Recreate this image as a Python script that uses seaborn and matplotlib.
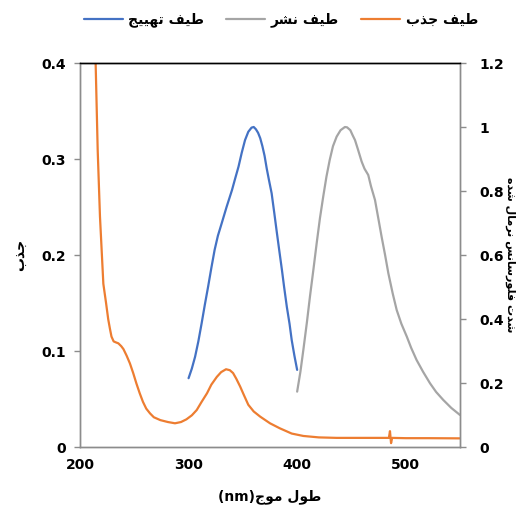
import numpy as np
import pandas as pd
import matplotlib
matplotlib.use("Agg")
import matplotlib.pyplot as plt
import seaborn as sns

# ---------------- data ----------------
abs_nm = [212, 214.4, 216.3, 218.4, 221.5, 224, 226, 227.6, 229, 231, 233, 235.3, 238, 240,
          243, 246, 249, 252, 255, 258, 261, 264.5, 268, 274, 281, 287.5, 293, 298, 303,
          307.5, 312, 317, 321, 326, 330, 334.5, 338, 341, 344, 347.5, 351, 355, 360, 366,
          375, 384, 395, 405.7, 420, 436.4, 460, 484.5, 485.5, 486.5, 487.5, 500, 520, 550]
abs_val = [0.45, 0.40, 0.309, 0.240, 0.170, 0.150, 0.133, 0.123, 0.115, 0.110, 0.109,
           0.108, 0.105, 0.102, 0.095, 0.087, 0.077, 0.066, 0.056, 0.047, 0.040, 0.035,
           0.031, 0.028, 0.026, 0.0247, 0.026, 0.0288, 0.033, 0.0385, 0.047, 0.056, 0.065,
           0.073, 0.078, 0.081, 0.080, 0.077, 0.071, 0.063, 0.054, 0.044, 0.037, 0.0316,
           0.0247, 0.0195, 0.014, 0.0115, 0.0100, 0.0095, 0.0095, 0.0095, 0.0165, 0.004,
           0.0095, 0.0092, 0.0092, 0.009]

exc_nm = [300, 303, 306, 309, 312, 315, 318, 321, 324, 327, 330.5, 335, 340, 343, 346, 349,
          352, 355, 358, 360, 362, 364, 366, 368, 370, 372, 374, 376.5, 379, 381, 383.5,
          386, 388, 390.5, 393, 395, 397.5, 400]
exc_val = [0.215, 0.245, 0.282, 0.330, 0.386, 0.445, 0.501, 0.560, 0.616, 0.660, 0.699,
           0.750, 0.803, 0.840, 0.876, 0.920, 0.959, 0.985, 0.998, 1.0, 0.993, 0.982,
           0.965, 0.940, 0.910, 0.870, 0.835, 0.793, 0.730, 0.678, 0.615, 0.553, 0.500,
           0.438, 0.385, 0.334, 0.285, 0.241]

emi_nm = [400, 403, 405.7, 409, 411.8, 415, 418, 421, 424, 427, 430, 433, 436.4, 440, 444,
          446, 449, 451, 453.3, 456, 459.4, 462, 465.5, 468, 471.7, 475, 477.8, 481, 484,
          488, 491.7, 496, 501, 505, 510, 516, 522.4, 528, 534.6, 542, 550]
emi_val = [0.173, 0.235, 0.303, 0.390, 0.470, 0.555, 0.637, 0.715, 0.782, 0.845, 0.897,
           0.940, 0.970, 0.990, 1.0, 0.999, 0.990, 0.975, 0.959, 0.930, 0.892, 0.870,
           0.850, 0.815, 0.772, 0.710, 0.657, 0.600, 0.543, 0.480, 0.428, 0.385, 0.345,
           0.310, 0.272, 0.235, 0.199, 0.172, 0.147, 0.122, 0.100]

x_ticks = [200, 300, 400, 500]
x_tick_labels = ["200", "300", "400", "500"]
yl_ticks = [0, 0.1, 0.2, 0.3, 0.4]
yl_tick_labels = ["0", "0.1", "0.2", "0.3", "0.4"]
yr_ticks = [0, 0.2, 0.4, 0.6, 0.8, 1.0, 1.2]
yr_tick_labels = ["0", "0.2", "0.4", "0.6", "0.8", "1", "1.2"]

label_abs = "طيف جذب"
label_emi = "طيف نشر"
label_exc = "طيف تهييج"
xlabel_ar = "طول موج"
xlabel_unit = "(nm)"
ylabel_left = "جذب"
ylabel_right = "شدت فلورسانس نرمال شده"

# ---------------- minimal Arabic shaping (visual order) ----------------
FORMS = {
    'ا': (0xFE8D, 0xFE8E, 0xFE8D, 0xFE8E),
    'ب': (0xFE8F, 0xFE90, 0xFE91, 0xFE92),
    'ت': (0xFE95, 0xFE96, 0xFE97, 0xFE98),
    'ج': (0xFE9D, 0xFE9E, 0xFE9F, 0xFEA0),
    'د': (0xFEA9, 0xFEAA, 0xFEA9, 0xFEAA),
    'ذ': (0xFEAB, 0xFEAC, 0xFEAB, 0xFEAC),
    'ر': (0xFEAD, 0xFEAE, 0xFEAD, 0xFEAE),
    'س': (0xFEB1, 0xFEB2, 0xFEB3, 0xFEB4),
    'ش': (0xFEB5, 0xFEB6, 0xFEB7, 0xFEB8),
    'ط': (0xFEC1, 0xFEC2, 0xFEC3, 0xFEC4),
    'ف': (0xFED1, 0xFED2, 0xFED3, 0xFED4),
    'ل': (0xFEDD, 0xFEDE, 0xFEDF, 0xFEE0),
    'م': (0xFEE1, 0xFEE2, 0xFEE3, 0xFEE4),
    'ن': (0xFEE5, 0xFEE6, 0xFEE7, 0xFEE8),
    'ه': (0xFEE9, 0xFEEA, 0xFEEB, 0xFEEC),
    'و': (0xFEED, 0xFEEE, 0xFEED, 0xFEEE),
    'ي': (0xFEF1, 0xFEF2, 0xFEF3, 0xFEF4),
}
NON_LEFT = set('ادذرو')


def shape(text):
    out = []
    n = len(text)
    for i, c in enumerate(text):
        if c not in FORMS:
            out.append(c)
            continue
        prev = text[i - 1] if i > 0 else None
        nxt = text[i + 1] if i + 1 < n else None
        jp = prev in FORMS and prev not in NON_LEFT
        jn = nxt in FORMS and c not in NON_LEFT
        f = FORMS[c]
        if jp and jn:
            out.append(chr(f[3]))
        elif jp:
            out.append(chr(f[1]))
        elif jn:
            out.append(chr(f[2]))
        else:
            out.append(chr(f[0]))
    return ''.join(reversed(out))


# ---------------- plot ----------------
sns.set_style("white")
plt.rcParams['font.family'] = ['DejaVu Sans']
plt.rcParams['font.weight'] = 'bold'
plt.rcParams['text.color'] = 'black'
plt.rcParams['axes.labelcolor'] = 'black'

C_ABS = "#ED7D31"
C_EMI = "#A5A5A5"
C_EXC = "#4472C4"

fig = plt.figure(figsize=(5.30, 5.11), dpi=100)
ax = fig.add_axes([80 / 530, 1 - 447 / 511, 380 / 530, 384 / 511])
ax2 = ax.twinx()

df_abs = pd.DataFrame({"nm": abs_nm, "v": abs_val})
df_exc = pd.DataFrame({"nm": exc_nm, "v": exc_val})
df_emi = pd.DataFrame({"nm": emi_nm, "v": emi_val})

sns.lineplot(data=df_abs, x="nm", y="v", ax=ax, color=C_ABS, lw=1.6, sort=False)
sns.lineplot(data=df_exc, x="nm", y="v", ax=ax2, color=C_EXC, lw=1.6, sort=False)
sns.lineplot(data=df_emi, x="nm", y="v", ax=ax2, color=C_EMI, lw=1.6, sort=False)

ax.set_xlim(200, 550)
ax.set_ylim(0, 0.4)
ax2.set_ylim(0, 1.2)

ax.set_xticks(x_ticks)
ax.set_xticklabels(x_tick_labels, fontsize=10, fontweight='bold')
ax.set_yticks(yl_ticks)
ax.set_yticklabels(yl_tick_labels, fontsize=10, fontweight='bold')
ax2.set_yticks(yr_ticks)
ax2.set_yticklabels(yr_tick_labels, fontsize=10, fontweight='bold')

for a in (ax, ax2):
    for s in a.spines.values():
        s.set_color("#8C8C8C")
        s.set_linewidth(1.0)
    a.spines['top'].set_color("black")
    a.grid(False)

ax.tick_params(axis='both', direction='out', length=4, width=1, color="#8C8C8C",
               labelcolor='black', pad=6)
ax2.tick_params(axis='y', direction='out', length=4, width=1, color="#8C8C8C",
                labelcolor='black', pad=10)
ax.tick_params(axis='x', pad=4)

ax.set_xlabel(xlabel_unit + shape(xlabel_ar), fontsize=10, fontweight='bold', labelpad=12)
ax.set_ylabel(shape(ylabel_left), fontsize=10, fontweight='bold', labelpad=10)
ax2.set_ylabel(shape(ylabel_right), fontsize=8, fontweight='bold', rotation=-90,
               labelpad=12)
ax2.yaxis.set_label_coords(1 + 55 / 380, 0.5)

h_exc = plt.Line2D([], [], color=C_EXC, lw=1.6)
h_emi = plt.Line2D([], [], color=C_EMI, lw=1.6)
h_abs = plt.Line2D([], [], color=C_ABS, lw=1.6)
fig.legend([h_exc, h_emi, h_abs],
           [shape(label_exc), shape(label_emi), shape(label_abs)],
           loc='center', bbox_to_anchor=(0.53, 1 - 20 / 511), ncol=3, frameon=False,
           prop={'size': 10, 'weight': 'bold'}, handlelength=2.8, columnspacing=1.6,
           handletextpad=0.4)

fig.savefig("out.png", dpi=100)
